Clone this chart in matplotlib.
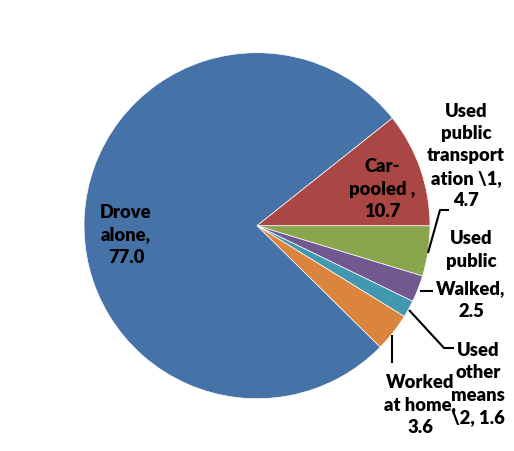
import matplotlib
matplotlib.use("Agg")
import matplotlib.pyplot as plt

# commute mode shares (%), in drawing order (clockwise from 3 o'clock)
modes = ["Used public transportation \\1", "Walked", "Used other means \\2",
         "Worked at home", "Drove alone", "Car-pooled"]
shares = [4.7, 2.5, 1.6, 3.6, 77.0, 10.7]
colors = ["#89A54E", "#71588F", "#4198AF", "#DB843D", "#4572A7", "#AA4643"]

# label texts as wrapped in the original chart
label_text = {
    "Drove alone": "Drove\nalone,\n77.0",
    "Car-pooled": "Car-\npooled ,\n10.7",
    "Used public transportation \\1": "Used\npublic\ntransport\nation \\1,\n4.7",
    "Walked": "Walked,\n2.5",
    "Used other means \\2": "Used\nother\nmeans\n\\2, 1.6",
    "Worked at home": "Worked\nat home,\n3.6",
}

W, H = 514, 451
fig = plt.figure(figsize=(W / 100, H / 100), dpi=100)
ax = fig.add_axes([0, 0, 1, 1])


def py(y):
    # pixel row -> data y
    return H - y


ax.pie(shares, colors=colors, startangle=0, counterclock=False,
       center=(257, py(225.7)), radius=173, frame=True,
       wedgeprops=dict(edgecolor="white", linewidth=0.5))
ax.set_xlim(0, W)
ax.set_ylim(0, H)
ax.set_aspect("auto")
ax.axis("off")

font = dict(family="Lato", fontweight="heavy", fontsize=13.2, color="black",
            ha="center", va="center", linespacing=1.38)

pos = {
    "Drove alone": (126, 235),
    "Car-pooled": (382, 189),
    "Used public transportation \\1": (466, 156),
    "Walked": (471, 300),
    "Used other means \\2": (478, 384),
    "Worked at home": (420, 405),
}
for m in modes:
    x, y = pos[m]
    ax.text(x, py(y), label_text[m], **font)

# stray overlapping text present in the original
ax.text(471, py(250), "Used\npublic", **font)

# leader lines
lk = dict(color="black", linewidth=1.5, solid_capstyle="butt")
ax.plot([428, 440, 449], [py(253), py(210), py(210)], **lk)
ax.plot([420, 433], [py(291), py(291)], **lk)
ax.plot([409, 444, 454], [py(310), py(348), py(348)], **lk)
ax.plot([392, 392], [py(335), py(363)], **lk)

fig.savefig("out.png", dpi=100)
